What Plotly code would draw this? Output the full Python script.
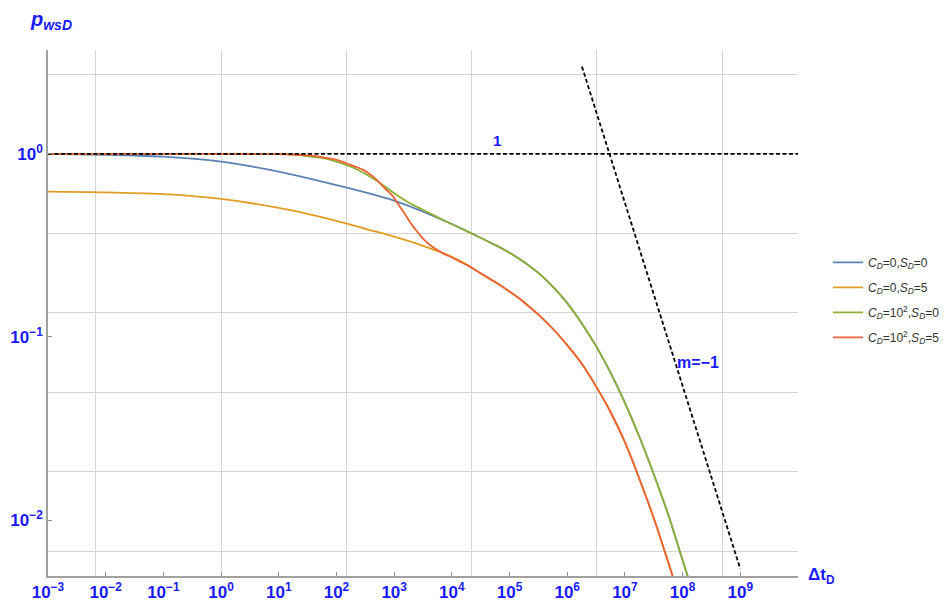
import numpy as np
import plotly.graph_objects as go

# ---- data (dimensionless time, dimensionless pressure) ----
# C_D=0, S_D=0 (blue)
t_c0s0 = [1e-3, 3.162e-3, 1e-2, 3.162e-2, 0.1, 0.3162, 1, 3.162, 10, 31.62, 100, 316.2,
          1000, 3162, 1e4, 17780, 31620, 56230, 1e5, 177800, 316200, 562300, 1e6,
          1.778e6, 3.162e6, 5.623e6, 1e7, 1.778e7, 3.162e7, 5.623e7, 1e8, 1.778e8]
p_c0s0 = [1.0, 0.9954, 0.9886, 0.9795, 0.9660, 0.9419, 0.9078, 0.8570, 0.7998, 0.7379,
          0.6761, 0.6166, 0.5559, 0.4842, 0.4140, 0.3802, 0.3483, 0.3184, 0.2884, 0.2570,
          0.2239, 0.1884, 0.1531, 0.1189, 0.0891, 0.0638, 0.0437, 0.0285, 0.01778,
          0.01072, 0.00603, 0.00339]

# C_D=0, S_D=5 (orange)
t_c0s5 = [1e-3, 1e-2, 0.1, 0.3162, 1, 3.162, 10, 31.62, 100, 316.2, 1000, 3162, 1e4,
          17780, 31620, 56230, 1e5, 177800, 316200, 562300, 1e6, 1.778e6, 3.162e6,
          5.623e6, 1e7, 1.778e7, 3.162e7, 5.623e7, 1e8]
p_c0s5 = [0.6223, 0.6166, 0.6026, 0.5888, 0.5675, 0.5395, 0.5070, 0.4710, 0.4315, 0.3899,
          0.3532, 0.3148, 0.2742, 0.2495, 0.2228, 0.1995, 0.1770, 0.1549, 0.1324, 0.1109,
          0.0902, 0.0716, 0.0537, 0.0389, 0.0266, 0.0168, 0.01023, 0.00589, 0.00331]

# C_D=10^2, S_D=0 (green)
t_c2s0 = [1e-3, 1, 10, 17.78, 31.62, 56.23, 100, 177.8, 316.2, 562.3, 1000, 1778, 3162,
          5623, 1e4, 17780, 31620, 56230, 1e5, 177800, 316200, 562300, 1e6, 1.778e6,
          3.162e6, 5.623e6, 1e7, 1.778e7, 3.162e7, 5.623e7, 1e8, 1.778e8]
p_c2s0 = [1.0, 1.0, 0.9977, 0.9908, 0.9727, 0.9506, 0.9078, 0.8511, 0.7798, 0.6950,
          0.6095, 0.5433, 0.4955, 0.4519, 0.4130, 0.3802, 0.3483, 0.3184, 0.2884, 0.2570,
          0.2239, 0.1884, 0.1531, 0.1189, 0.0891, 0.0638, 0.0437, 0.0285, 0.01778,
          0.01072, 0.00603, 0.00339]

# C_D=10^2, S_D=5 (red)
t_c2s5 = [1e-3, 1, 10, 17.78, 31.62, 56.23, 100, 150.3, 199.5, 291.7, 354.8, 434.5, 524.8,
          647.1, 794.3, 963.9, 1096, 1259, 1445, 1648, 1862, 2143, 2455, 2799, 3388, 4169,
          5370, 7096, 1e4, 15780, 22390, 31620, 56230, 1e5, 177800, 316200, 562300, 1e6,
          1.778e6, 3.162e6, 5.623e6, 1e7, 1.778e7, 3.162e7, 5.623e7, 1e8]
p_c2s5 = [1.0, 1.0, 0.9977, 0.9931, 0.9817, 0.9616, 0.9290, 0.8892, 0.8590, 0.8185, 0.7870,
          0.7516, 0.7112, 0.6622, 0.6223, 0.5848, 0.5495, 0.5152, 0.4831, 0.4539, 0.4266,
          0.4009, 0.3793, 0.3606, 0.3373, 0.3184, 0.3013, 0.2864, 0.2716, 0.2529, 0.2382,
          0.2228, 0.1995, 0.1770, 0.1549, 0.1324, 0.1109, 0.0902, 0.0716, 0.0537, 0.0389,
          0.0266, 0.0168, 0.01023, 0.00589, 0.00331]

# reference lines
unit_t = [1e-3, 1e10]
unit_p = [1.0, 1.0]
slope_t = [1.8e6, 1.0e9]
slope_p = [3.0, 0.0054]

series_names = [
    "<i>C</i><sub><i>D</i></sub>=0,<i>S</i><sub><i>D</i></sub>=0",
    "<i>C</i><sub><i>D</i></sub>=0,<i>S</i><sub><i>D</i></sub>=5",
    "<i>C</i><sub><i>D</i></sub>=10<sup>2</sup>,<i>S</i><sub><i>D</i></sub>=0",
    "<i>C</i><sub><i>D</i></sub>=10<sup>2</sup>,<i>S</i><sub><i>D</i></sub>=5",
]
series_colors = ["#5E81B5", "#E19C24", "#8FB032", "#EB6235"]

x_tick_vals = [1e-3, 1e-2, 1e-1, 1e0, 1e1, 1e2, 1e3, 1e4, 1e5, 1e6, 1e7, 1e8, 1e9]
x_tick_text = ["10<sup>−3</sup>", "10<sup>−2</sup>", "10<sup>−1</sup>", "10<sup>0</sup>",
               "10<sup>1</sup>", "10<sup>2</sup>", "10<sup>3</sup>", "10<sup>4</sup>",
               "10<sup>5</sup>", "10<sup>6</sup>", "10<sup>7</sup>", "10<sup>8</sup>",
               "10<sup>9</sup>"]
y_tick_vals = [1.0, 0.1, 0.01]
y_tick_text = ["10<sup>0</sup>", "10<sup>−1</sup>", "10<sup>−2</sup>"]

# grid lines sit at powers of e
x_grid_vals = list(np.exp([-5, 0, 5, 10, 15, 20]))
y_grid_vals = list(np.exp([1, 0, -1, -2, -3, -4, -5]))

BLUE_TXT = "rgb(26,26,255)"
FONT = "Liberation Sans, Arial, sans-serif"

fig = go.Figure()

for (tt, pp), name, col in zip(
        [(t_c0s0, p_c0s0), (t_c0s5, p_c0s5), (t_c2s0, p_c2s0), (t_c2s5, p_c2s5)],
        series_names, series_colors):
    fig.add_trace(go.Scatter(
        x=tt, y=pp, mode="lines", name=name, legendgroup=name,
        line=dict(color=col, width=1.8, shape="spline", smoothing=1.0),
    ))

fig.add_trace(go.Scatter(x=unit_t, y=unit_p, mode="lines", showlegend=False,
                         line=dict(color="black", width=1.8, dash="4px,2.5px")))
fig.add_trace(go.Scatter(x=slope_t, y=slope_p, mode="lines", showlegend=False,
                         line=dict(color="black", width=1.8, dash="4px,2.5px")))

fig.add_annotation(x=np.log10(6e4), y=np.log10(1.18), text="<b>1</b>", showarrow=False,
                   font=dict(color=BLUE_TXT, size=15, family=FONT))
fig.add_annotation(x=8.27, y=-1.137, text="<b>m=−1</b>", showarrow=False,
                   font=dict(color=BLUE_TXT, size=16, family=FONT))
fig.add_annotation(xref="paper", yref="paper", x=-0.027, y=1.056, xanchor="left",
                   yanchor="middle", showarrow=False,
                   text="<b><i>p<sub>wsD</sub></i></b>",
                   font=dict(color=BLUE_TXT, size=20, family=FONT))
fig.add_annotation(xref="paper", yref="paper", x=1.0107, y=0.0, xanchor="left",
                   yanchor="middle", showarrow=False,
                   text="<b>Δt<sub>D</sub></b>",
                   font=dict(color=BLUE_TXT, size=17, family=FONT))

axis_common = dict(
    showgrid=False, zeroline=False, showline=True, linecolor="#a0a0a0", linewidth=1.5,
    ticks="inside", ticklen=4, tickcolor="#909090", tickwidth=1,
    tickmode="array", automargin=False,
    tickfont=dict(color=BLUE_TXT, size=17, family=FONT, weight="bold"),
)

fig.update_xaxes(type="log", range=[-3, 10], tickvals=x_tick_vals, ticktext=x_tick_text,
                 minor=dict(tickmode="array", tickvals=x_grid_vals, showgrid=True,
                            gridcolor="#d4d4d4", gridwidth=1, ticks=""),
                 **axis_common)
fig.update_yaxes(type="log", range=[-2.306, 0.568], tickvals=y_tick_vals, ticktext=y_tick_text,
                 minor=dict(tickmode="array", tickvals=y_grid_vals, showgrid=True,
                            gridcolor="#d4d4d4", gridwidth=1, ticks=""),
                 **axis_common)

# the page body adds an 8px offset, so the figure is sized to leave room for it
fig.update_layout(
    template="none",
    width=940, height=595,
    margin=dict(l=40, r=150, t=42, b=27, autoexpand=False),
    paper_bgcolor="white", plot_bgcolor="white",
    font=dict(family=FONT),
    showlegend=True,
    legend=dict(x=1.04, y=0.624, xanchor="left", yanchor="top",
                font=dict(size=12, color="#333333", family=FONT),
                tracegroupgap=6, bgcolor="rgba(0,0,0,0)"),
)

fig.write_html("out.html")
